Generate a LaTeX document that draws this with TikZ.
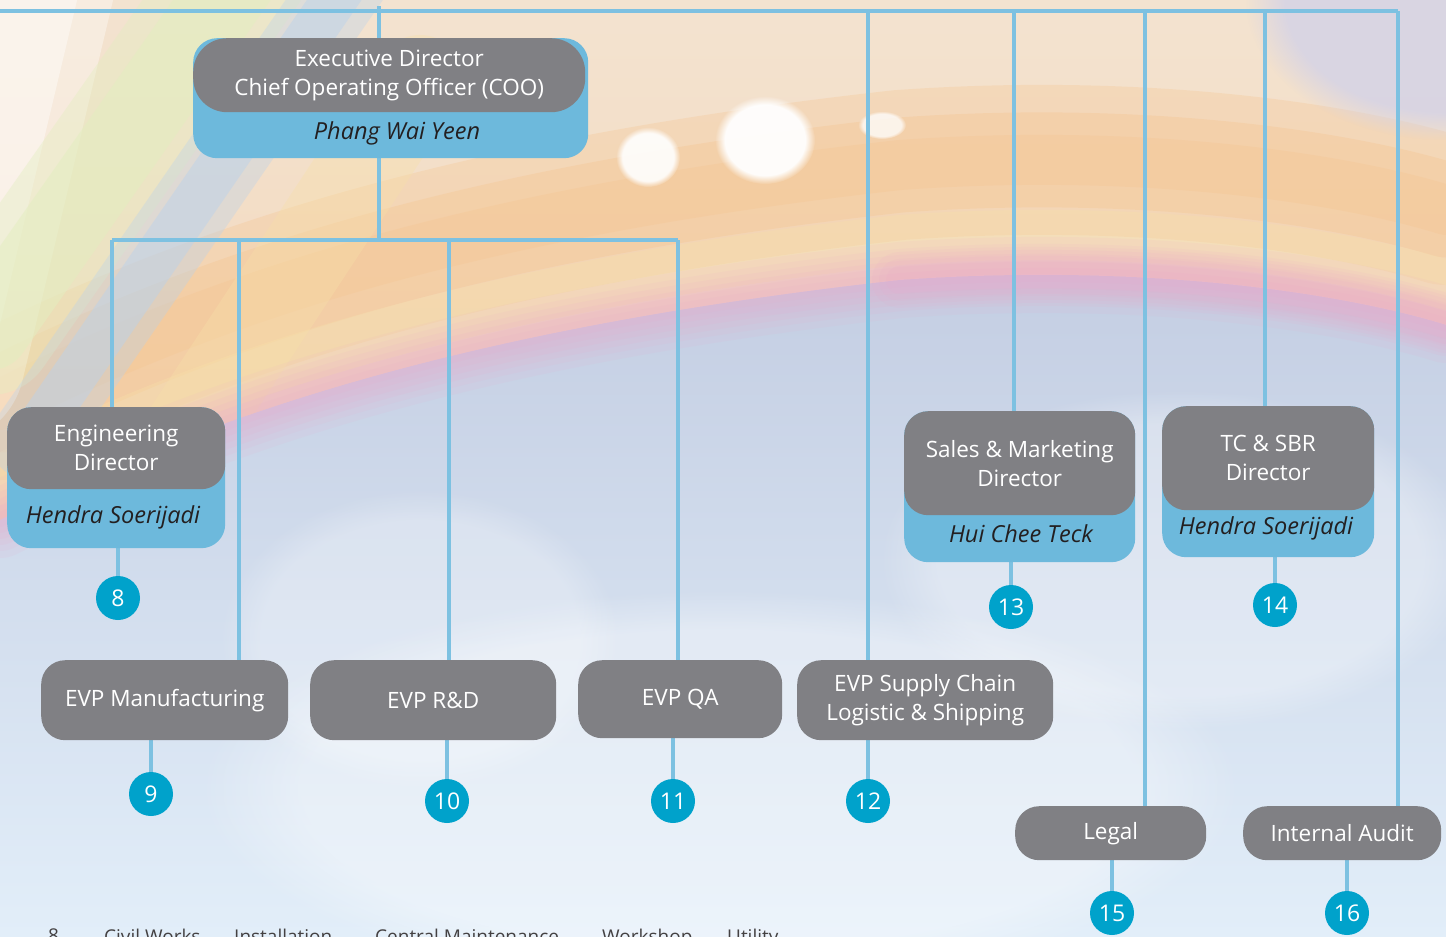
\documentclass[tikz,border=0pt]{standalone}
\usepackage{fontspec}
\setmainfont{Open Sans}
\usetikzlibrary{fadings,calc}
\definecolor{lineblue}{HTML}{7DC1E1}
\definecolor{boxblue}{HTML}{6DB9DC}
\definecolor{boxgrey}{HTML}{808084}
\definecolor{numblue}{HTML}{00A2CB}
\definecolor{namecol}{HTML}{231F20}
\definecolor{bgpeachA}{HTML}{F3E3D0}
\definecolor{bgpeachB}{HTML}{F2D3B4}
\definecolor{bginA}{HTML}{C3CDE2}
\definecolor{bginB}{HTML}{E2EEF9}
\definecolor{bgyg}{HTML}{E3EEC0}
\definecolor{bgsky}{HTML}{B9D2EC}
\definecolor{bgor}{HTML}{F5C590}
\definecolor{bgyel}{HTML}{F7E0A8}
\definecolor{bglav}{HTML}{D5D3E6}
\definecolor{bgpink}{HTML}{EBA9CB}
\pgfdeclarelayer{bg}
\pgfdeclarelayer{lines}
\pgfsetlayers{bg,lines,main}
\begin{document}
\begin{tikzpicture}[x=1pt,y=-1pt,
  conn/.style={draw=lineblue, line width=4.5pt},
  bluebox/.style={fill=boxblue, rounded corners=24pt, inner sep=0pt, anchor=north west},
  greybox/.style={fill=boxgrey, rounded corners=24pt, inner sep=0pt, anchor=north west, text=white, align=center, font=\fontsize{22.5}{29}\selectfont},
  nametext/.style={text=namecol, inner sep=0pt, font=\fontsize{23.5}{26}\selectfont\itshape},
  num/.style={circle, fill=numblue, text=white, minimum size=44pt, inner sep=0pt, font=\fontsize{23}{26}\selectfont},
  legend/.style={text=namecol!85, inner sep=0pt, anchor=north west, font=\fontsize{19}{24}\selectfont},
  blob/.style={path fading=circle with fuzzy edge 20 percent, fill opacity=#1},
  blob/.default=0.8,
  soft/.style={line cap=round, draw opacity=#1},
  soft/.default=0.3]
\useasboundingbox (0,0) rectangle (1446,937);

% ---------- background ----------
\begin{pgfonlayer}{bg}
\begin{scope}
\clip (0,0) rectangle (1446,937);
\shade[top color=bgpeachA, bottom color=bgpeachB] (0,0) rectangle (1446,620);
% orange band of the rainbow
\begin{scope}[yshift=115pt]
\draw[bgor, soft=0.3, line width=150pt] (0,520) .. controls (200,420) and (450,330) .. (900,280) .. controls (1150,262) and (1350,295) .. (1446,325);
\draw[bgor, soft=0.35, line width=95pt] (0,520) .. controls (200,420) and (450,330) .. (900,280) .. controls (1150,262) and (1350,295) .. (1446,325);
\draw[bgor, soft=0.3, line width=50pt] (0,520) .. controls (200,420) and (450,330) .. (900,280) .. controls (1150,262) and (1350,295) .. (1446,325);
\end{scope}
\begin{scope}[yshift=40pt]
\draw[bgyel, soft=0.35, line width=50pt] (0,520) .. controls (200,420) and (450,330) .. (900,280) .. controls (1150,262) and (1350,295) .. (1446,325);
\end{scope}
% streaks at the upper left
\draw[white, soft=0.35, line width=170pt] (40,-60) -- (-60,360);
\draw[white, soft=0.4, line width=100pt] (40,-60) -- (-60,360);
\draw[bgyg, soft=0.4, line width=130pt] (250,-40) -- (-10,330);
\draw[bgyg, soft=0.5, line width=80pt] (250,-40) -- (-10,330);
\draw[bgsky, soft=0.35, line width=80pt] (355,-30) -- (30,440);
\draw[bgsky, soft=0.45, line width=45pt] (355,-30) -- (30,440);
\draw[bgyel, soft=0.35, line width=90pt] (420,80) -- (170,460);
% upper right lavender
\fill[bglav, blob=0.85] (1446,0) ellipse [x radius=200, y radius=140];
% glows
\fill[white, blob=0.95] (765,140) ellipse [x radius=50, y radius=44];
\fill[white, blob=0.9] (648,157) ellipse [x radius=32, y radius=30];
\fill[white, blob=0.75] (882,125) ellipse [x radius=24, y radius=14];
% inner blue region of the rainbow
\shade[top color=bginA, bottom color=bginB] (0,520) .. controls (200,420) and (450,330) .. (900,280) .. controls (1150,262) and (1350,295) .. (1446,325) -- (1446,937) -- (0,937) -- cycle;
\fill[white, blob=0.35] (720,790) ellipse [x radius=520, y radius=200];
\fill[white, blob=0.3] (1180,560) ellipse [x radius=300, y radius=170];
\fill[white, blob=0.25] (420,640) ellipse [x radius=200, y radius=150];
% pink band
\foreach \w/\o in {76/0.1, 62/0.1, 50/0.12, 38/0.12, 26/0.12, 14/0.1}{
  \draw[bgpink, soft=\o, line width=\w pt] (0,520) .. controls (200,420) and (450,330) .. (900,280) .. controls (1150,262) and (1350,295) .. (1446,325);
}
\foreach \w/\o in {56/0.1, 42/0.1, 28/0.12}{
  \draw[bgpink, soft=\o, line width=\w pt] (900,280) .. controls (1150,262) and (1350,295) .. (1446,325);
}
\end{scope}
\end{pgfonlayer}

% ---------- boxes ----------
\node[bluebox, minimum width=395pt, minimum height=120pt] (cooB) at (193,38) {};
\node[greybox, rounded corners=34pt, minimum width=392pt, minimum height=74pt] (coo) at (193,38) {Executive Director\\Chief Operating Officer (COO)};
\node[nametext] (cooN) at (397,133) {Phang Wai Yeen};

\node[bluebox, minimum width=218pt, minimum height=141pt] (engB) at (7,407) {};
\node[greybox, minimum width=218pt, minimum height=82pt] (eng) at (7,407) {Engineering\\Director};
\node[nametext] (engN) at (113,517) {Hendra Soerijadi};

\node[bluebox, minimum width=231pt, minimum height=151pt] (salB) at (904,411) {};
\node[greybox, minimum width=231pt, minimum height=104pt] (sal) at (904,411) {Sales \& Marketing\\Director};
\node[nametext] (salN) at (1021,534) {Hui Chee Teck};

\node[bluebox, minimum width=212pt, minimum height=151pt] (tcB) at (1162,406) {};
\node[greybox, minimum width=212pt, minimum height=104pt] (tc) at (1162,406) {TC \& SBR\\Director};
\node[nametext] (tcN) at (1266,528) {Hendra Soerijadi};

\node[greybox, minimum width=247pt, minimum height=80pt] (mfg) at (41,660) {EVP Manufacturing};
\node[greybox, minimum width=246pt, minimum height=80pt] (rd) at (310,660) {EVP R\&D};
\node[greybox, minimum width=204pt, minimum height=78pt] (qa) at (578,660) {EVP QA};
\node[greybox, minimum width=256pt, minimum height=80pt] (sc) at (797,660) {EVP Supply Chain\\Logistic \& Shipping};
\node[greybox, minimum width=191pt, minimum height=54pt] (legal) at (1015,806) {Legal};
\node[greybox, minimum width=198pt, minimum height=54pt] (audit) at (1243,806) {Internal Audit};

% ---------- numbers ----------
\node[num] (n8) at (118,598) {8};
\node[num] (n9) at (151,794) {9};
\node[num] (n10) at (447,801) {10};
\node[num] (n11) at (673,801) {11};
\node[num] (n12) at (868,801) {12};
\node[num] (n13) at (1011,607) {13};
\node[num] (n14) at (1275,605) {14};
\node[num] (n15) at (1112,913) {15};
\node[num] (n16) at (1347,913) {16};

% ---------- legend, cut off by the lower edge ----------
\begin{scope}
\clip (0,0) rectangle (1446,937);
\node[legend] (l8) at (48,929) {8};
\node[legend] (l1) at (104,929) {Civil Works};
\node[legend] (l2) at (234,929) {Installation};
\node[legend] (l3) at (375,929) {Central Maintenance};
\node[legend] (l4) at (602,929) {Workshop};
\node[legend] (l5) at (727,929) {Utility};
\end{scope}

% ---------- connectors ----------
\coordinate (tl) at (0,11);
\coordinate (tr) at (1398,11);
\coordinate (cooTop) at (379,6);
\coordinate (hub) at (379,240);
\coordinate (h1) at (112,240);
\coordinate (h2) at (239,240);
\coordinate (h3) at (449,240);
\coordinate (h4) at (678,240);
\coordinate (t1) at (868,11);
\coordinate (t2) at (1014,11);
\coordinate (t3) at (1145,11);
\coordinate (t4) at (1265,11);
\begin{pgfonlayer}{lines}
\draw[conn] (tl) -- (tr);
\draw[conn] (cooTop) -- (hub);
\draw[conn] (h1) -- (h4);
\draw[conn] (h1) -- (h1 |- engB.north);
\draw[conn] (h2) -- (h2 |- mfg.north);
\draw[conn] (h3) -- (h3 |- rd.north);
\draw[conn] (h4) -- (h4 |- qa.north);
\draw[conn] (t1) -- (t1 |- sc.north);
\draw[conn] (t2) -- (t2 |- salB.north);
\draw[conn] (t3) -- (t3 |- legal.north);
\draw[conn] (t4) -- (t4 |- tcB.north);
\draw[conn] (tr) -- (tr |- audit.north);
\draw[conn] (n8 |- engB.south) -- (n8);
\draw[conn] (n9 |- mfg.south) -- (n9);
\draw[conn] (n10 |- rd.south) -- (n10);
\draw[conn] (n11 |- qa.south) -- (n11);
\draw[conn] (n12 |- sc.south) -- (n12);
\draw[conn] (n13 |- salB.south) -- (n13);
\draw[conn] (n14 |- tcB.south) -- (n14);
\draw[conn] (n15 |- legal.south) -- (n15);
\draw[conn] (n16 |- audit.south) -- (n16);
\end{pgfonlayer}
\end{tikzpicture}
\end{document}
